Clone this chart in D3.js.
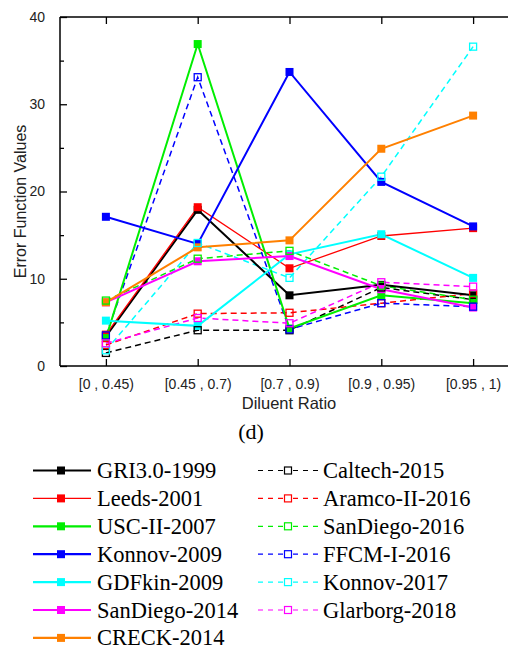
<!DOCTYPE html>
<html><head><meta charset="utf-8">
<script src="https://cdn.jsdelivr.net/npm/d3@7"></script>
<style>body{margin:0;background:#fff;}svg{display:block;}</style>
</head><body>
<script>
const categories = ["[0 , 0.45)", "[0.45 , 0.7)", "[0.7 , 0.9)", "[0.9 , 0.95)", "[0.95 , 1)"];
const yTicks = [0, 10, 20, 30, 40];
const yMinorTicks = [5, 15, 25, 35];

const GRI = [3.4, 17.9, 8.1, 9.3, 8.1];
const Leeds = [3.6, 18.2, 11.2, 14.9, 15.8];
const USC = [3.2, 36.9, 4.3, 8.1, 7.2];
const Konnov09 = [17.1, 14.0, 33.7, 21.1, 16.0];
const GDFkin = [5.2, 4.6, 12.8, 15.1, 10.1];
const SanDiego14 = [7.3, 12.0, 12.6, 8.8, 6.7];
const CRECK = [7.3, 13.6, 14.4, 24.9, 28.7];
const Caltech = [1.5, 4.1, 4.1, 9.0, 7.6];
const Aramco = [2.4, 6.0, 6.1, 7.2, 8.3];
const SanDiego16 = [7.5, 12.3, 13.2, 9.2, 7.6];
const FFCM = [3.5, 33.1, 4.2, 7.2, 6.8];
const Konnov17 = [1.8, 14.1, 10.1, 21.7, 36.6];
const Glarborg = [2.6, 5.5, 4.9, 9.6, 9.1];

const solidNames = ["GRI3.0-1999", "Leeds-2001", "USC-II-2007", "Konnov-2009", "GDFkin-2009", "SanDiego-2014", "CRECK-2014"];
const solidValues = [GRI, Leeds, USC, Konnov09, GDFkin, SanDiego14, CRECK];
const solidColors = ["#000000", "#ff0000", "#00ee00", "#0000ff", "#00ffff", "#ff00ff", "#ff8000"];
const dashNames = ["Caltech-2015", "Aramco-II-2016", "SanDiego-2016", "FFCM-I-2016", "Konnov-2017", "Glarborg-2018"];
const dashValues = [Caltech, Aramco, SanDiego16, FFCM, Konnov17, Glarborg];
const dashColors = ["#000000", "#ff0000", "#00ee00", "#0000ff", "#00ffff", "#ff00ff"];

const W = 508, H = 650;
const svg = d3.select("body").append("svg").attr("width", W).attr("height", H);

const pL = 60, pR = 519, pT = 17, pB = 366;
const x = d3.scalePoint().domain(categories).range([pL, pR]).padding(0.5);
const y = d3.scaleLinear().domain([0, 40]).range([pB, pT]);

const sans = "'Liberation Sans', Arial, sans-serif";
const serif = "'Liberation Serif', 'Times New Roman', serif";

// series
const line = d3.line().x((d, i) => x(categories[i])).y(d => y(d));
const g = svg.append("g");

function drawDashed(vals, color) {
  g.append("path").attr("d", line(vals)).attr("fill", "none")
    .attr("stroke", color).attr("stroke-width", 1.5).attr("stroke-dasharray", "6,4");
}
function drawSolid(vals, color, w) {
  g.append("path").attr("d", line(vals)).attr("fill", "none")
    .attr("stroke", color).attr("stroke-width", w);
}
dashValues.forEach((v, k) => drawDashed(v, dashColors[k]));
solidValues.forEach((v, k) => drawSolid(v, solidColors[k], k === 1 ? 1.3 : 2));
solidValues.forEach((v, k) => {
  g.selectAll(null).data(v).enter().append("rect")
    .attr("x", (d, i) => x(categories[i]) - 4).attr("y", d => y(d) - 4)
    .attr("width", 8).attr("height", 8).attr("fill", solidColors[k]);
});
dashValues.forEach((v, k) => {
  g.selectAll(null).data(v).enter().append("rect")
    .attr("x", (d, i) => x(categories[i]) - 3.5).attr("y", d => y(d) - 3.5)
    .attr("width", 7).attr("height", 7).attr("fill", "none")
    .attr("stroke", dashColors[k]).attr("stroke-width", 1.3);
});

// axes
const ax = svg.append("g").attr("stroke", "#000").attr("stroke-width", 1.5);
ax.append("line").attr("x1", pL).attr("x2", pR).attr("y1", pB).attr("y2", pB);
ax.append("line").attr("x1", pL).attr("x2", pR).attr("y1", pT).attr("y2", pT);
ax.append("line").attr("x1", pL).attr("x2", pL).attr("y1", pT).attr("y2", pB);

const yAxis = d3.axisLeft(y).tickValues(yTicks).tickSizeInner(-7).tickSizeOuter(0).tickPadding(15);
const yg = svg.append("g").attr("transform", `translate(${pL},0)`).call(yAxis);
yg.select(".domain").remove();
yg.selectAll("line").attr("stroke-width", 1.3);
yg.selectAll("text").attr("font-family", sans).attr("font-size", 14).attr("fill", "#222");
const ym = d3.axisLeft(y).tickValues(yMinorTicks).tickSizeInner(-4).tickSizeOuter(0).tickFormat("");
const ymg = svg.append("g").attr("transform", `translate(${pL},0)`).call(ym);
ymg.select(".domain").remove();
ymg.selectAll("line").attr("stroke-width", 1.3);

const xAxis = d3.axisBottom(x).tickSizeInner(-7).tickSizeOuter(0).tickPadding(13);
const xg = svg.append("g").attr("transform", `translate(0,${pB})`).call(xAxis);
xg.select(".domain").remove();
xg.selectAll("line").attr("stroke-width", 1.3);
xg.selectAll("text").attr("font-family", sans).attr("font-size", 14).attr("fill", "#222");
const xTop = d3.axisTop(x).tickSizeInner(-7).tickSizeOuter(0).tickFormat("");
const xtg = svg.append("g").attr("transform", `translate(0,${pT})`).call(xTop);
xtg.select(".domain").remove();
xtg.selectAll("line").attr("stroke-width", 1.3);

// titles
svg.append("text").attr("transform", "translate(25.5,201.5) rotate(-90)")
  .attr("text-anchor", "middle").attr("font-family", sans).attr("font-size", 16).attr("fill", "#222")
  .text("Error Function Values");
svg.append("text").attr("x", 289).attr("y", 409).attr("text-anchor", "middle")
  .attr("font-family", sans).attr("font-size", 16.5).attr("fill", "#222").text("Diluent Ratio");
svg.append("text").attr("x", 251).attr("y", 439).attr("text-anchor", "middle")
  .attr("font-family", serif).attr("font-size", 22).attr("fill", "#000").text("(d)");

// legend
const rowY = i => 470.5 + i * 27.9;
const leg = svg.append("g");
solidNames.forEach((n, i) => {
  const cy = rowY(i);
  leg.append("line").attr("x1", 33).attr("x2", 91).attr("y1", cy).attr("y2", cy)
    .attr("stroke", solidColors[i]).attr("stroke-width", i === 1 ? 1.2 : 2.2);
  leg.append("rect").attr("x", 57).attr("y", cy - 4).attr("width", 8).attr("height", 8).attr("fill", solidColors[i]);
  leg.append("text").attr("x", 97).attr("y", cy + 7.5).attr("font-family", serif).attr("font-size", 22.5)
    .attr("fill", "#000").text(n);
});
dashNames.forEach((n, i) => {
  const cy = rowY(i);
  leg.append("line").attr("x1", 258).attr("x2", 283).attr("y1", cy).attr("y2", cy)
    .attr("stroke", dashColors[i]).attr("stroke-width", 1.2).attr("stroke-dasharray", "5,5");
  leg.append("line").attr("x1", 293).attr("x2", 318).attr("y1", cy).attr("y2", cy)
    .attr("stroke", dashColors[i]).attr("stroke-width", 1.2).attr("stroke-dasharray", "5,5");
  leg.append("rect").attr("x", 284.5).attr("y", cy - 3.5).attr("width", 7).attr("height", 7)
    .attr("fill", "none").attr("stroke", dashColors[i]).attr("stroke-width", 1.2);
  leg.append("text").attr("x", 323).attr("y", cy + 7.5).attr("font-family", serif).attr("font-size", 22.5)
    .attr("fill", "#000").text(n);
});
</script>
</body></html>
